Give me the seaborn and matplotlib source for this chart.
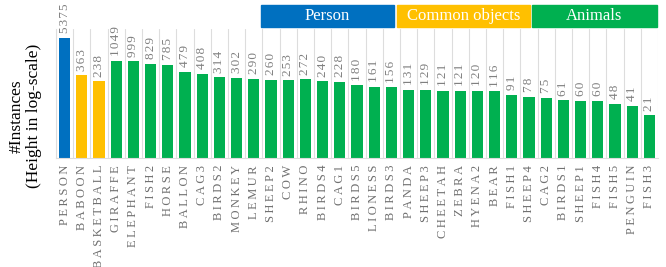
import seaborn as sns
import matplotlib.pyplot as plt
from matplotlib.patches import Rectangle
import pandas as pd
import numpy as np

categories = [
    "PERSON", "BABOON", "BASKETBALL", "GIRAFFE", "ELEPHANT", "FISH2", "HORSE",
    "BALLON", "CAG3", "BIRDS2", "MONKEY", "LEMUR", "SHEEP2", "COW", "RHINO",
    "BIRDS4", "CAG1", "BIRDS5", "LIONESS", "BIRDS3", "PANDA", "SHEEP3",
    "CHEETAH", "ZEBRA", "HYENA2", "BEAR", "FISH1", "SHEEP4", "CAG2", "BIRDS1",
    "SHEEP1", "FISH4", "FISH5", "PENGUIN", "FISH3",
]
instances = [
    5375, 363, 238, 1049, 999, 829, 785, 479, 408, 314, 302, 290, 260, 253,
    272, 240, 228, 180, 161, 156, 131, 129, 121, 121, 120, 116, 91, 78, 75,
    61, 60, 60, 48, 41, 21,
]
groups = ["Person"] + ["Common objects"] * 2 + ["Animals"] * (len(categories) - 3)
group_names = ["Person", "Common objects", "Animals"]
group_colors = {"Person": "#0070C0", "Common objects": "#FFC000", "Animals": "#00B050"}

df = pd.DataFrame({"category": categories, "instances": instances, "group": groups})

sns.set_style("white")
plt.rcParams["font.family"] = ["Liberation Serif", "DejaVu Serif"]

fig = plt.figure(figsize=(6.66, 2.67), dpi=100)
ax = fig.add_axes([56 / 666, 1 - 158 / 267, 602 / 666, 129 / 267])

sns.barplot(data=df, x="category", y="instances", hue="group",
            palette=group_colors, saturation=1, dodge=False, width=0.64,
            legend=False, ax=ax, edgecolor="none")
ax.set_yscale("log")
ax.set_ylim(1, 10000)
ax.set_xlim(-0.5, len(categories) - 0.5)
ax.set_yticks([])
ax.yaxis.set_minor_locator(plt.NullLocator())

# category separators
ax.set_xticks(np.arange(len(categories)))
ax.set_xticks(np.arange(len(categories) + 1) - 0.5, minor=True)
ax.grid(True, axis="x", which="minor", color="#dddddd", lw=0.8)
ax.grid(False, axis="x", which="major")
ax.tick_params(axis="x", which="minor", length=0)
ax.set_axisbelow(True)

for s in ["top", "right"]:
    ax.spines[s].set_visible(False)
ax.spines["left"].set_color("#dddddd")
ax.spines["bottom"].set_color("#dddddd")

# spaced-out tick labels
spaced = ["\u2009".join(c) for c in categories]
ax.set_xticklabels(spaced, rotation=90, color="#707070", fontsize=9)
ax.tick_params(axis="x", which="major", length=0, pad=5)
ax.set_xlabel("")
ax.set_ylabel("")

for i, v in enumerate(instances):
    ax.text(i, v * 1.4, "\u200a".join(str(v)), rotation=90, ha="center",
            va="bottom", color="#808080", fontsize=9.5)

fig.text(25 / 666, 1 - 116 / 267, "#Instances\n(Height in log-scale)",
         rotation=90, ha="center", va="center", fontsize=12.5, color="black",
         linespacing=1.1, multialignment="center")

# group header boxes
boxes = [(261, 394), (397, 530), (532, 657)]
for name, (x0, x1) in zip(group_names, boxes):
    fig.patches.append(Rectangle((x0 / 666, 1 - 27 / 267), (x1 - x0) / 666, 22 / 267,
                                 transform=fig.transFigure, color=group_colors[name]))
    fig.text((x0 + x1) / 2 / 666, 1 - 16 / 267, name, ha="center", va="center",
             color="white", fontsize=12, family="Liberation Serif")

fig.savefig("out.png", dpi=100)
